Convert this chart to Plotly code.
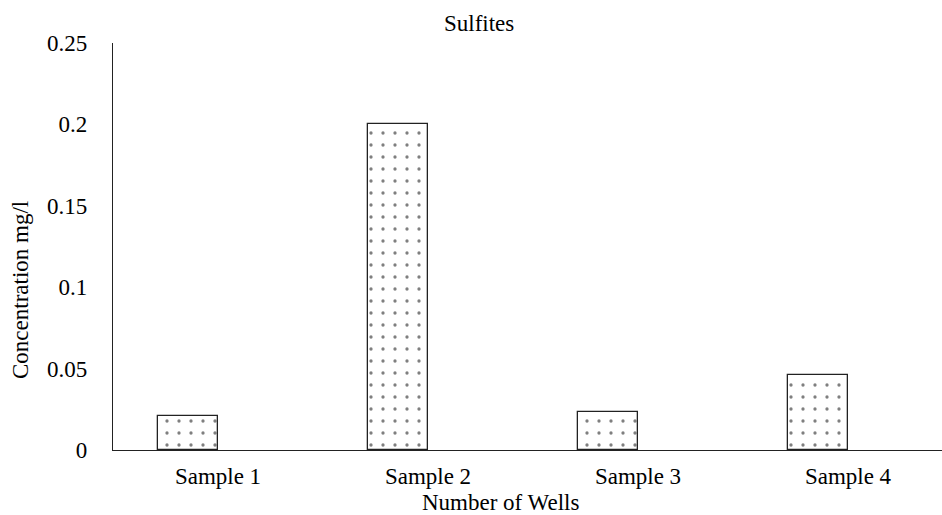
import plotly.graph_objects as go

categories = ["Sample 1", "Sample 2", "Sample 3", "Sample 4"]
sulfites = [0.021, 0.2, 0.0235, 0.046]
y_ticks = [0, 0.05, 0.1, 0.15, 0.2, 0.25]
y_tick_labels = ["0", "0.05", "0.1", "0.15", "0.2", "0.25"]

W, H = 942, 515
L, R, T, B = 113, 0, 43, 65
PW, PH = W - L - R, H - T - B

def px(x):
    return (x - L) / PW

def py(y):
    return (H - B - y) / PH

FONT = "'Liberation Serif', 'Times New Roman', Times, 'DejaVu Serif', serif"
FS = 23

bar_w = 60 / 210
fig = go.Figure()
fig.add_trace(go.Bar(
    x=categories, y=sulfites,
    width=bar_w, offset=-bar_w,
    marker=dict(color="white",
                line=dict(color="#222", width=1.3),
                pattern=dict(shape=".", size=12, solidity=0.06,
                             fgcolor="black", bgcolor="white", fillmode="overlay")),
    showlegend=False,
))

fig.update_layout(
    width=W, height=H,
    margin=dict(l=L, r=R, t=T, b=B),
    paper_bgcolor="white", plot_bgcolor="white",
    font=dict(family=FONT, size=FS, color="black"),
    bargap=0,
    xaxis=dict(range=[-0.5, -0.5 + PW / 210], showgrid=False, zeroline=False,
               showline=True, linecolor="#222", linewidth=1.3,
               ticks="", ticklabelstandoff=5,
               tickfont=dict(family=FONT, size=FS)),
    yaxis=dict(range=[0, 0.25], tickvals=y_ticks, ticktext=y_tick_labels,
               showgrid=False, zeroline=False,
               showline=True, linecolor="#222", linewidth=1.3,
               ticks="", ticklabelstandoff=20,
               tickfont=dict(family=FONT, size=FS)),
    annotations=[
        dict(text="Sulfites", x=px(479), y=py(23), xref="paper", yref="paper",
             showarrow=False, xanchor="center", yanchor="middle",
             font=dict(family=FONT, size=FS)),
        dict(text="Number of Wells", x=px(500), y=py(502), xref="paper", yref="paper",
             showarrow=False, xanchor="center", yanchor="middle",
             font=dict(family=FONT, size=FS)),
        dict(text="Concentration mg/l", x=px(20), y=py(290), xref="paper", yref="paper",
             showarrow=False, xanchor="center", yanchor="middle", textangle=-90,
             font=dict(family=FONT, size=FS)),
    ],
)

fig.write_html("out.html")
